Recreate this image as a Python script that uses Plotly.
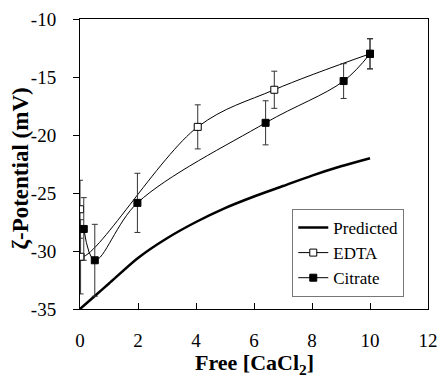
import plotly.graph_objects as go

# Data
pred_x = [0, 0.5, 1, 2, 3, 4, 5, 6, 7, 8, 9, 10]
pred_y = [-35.0, -33.9, -32.8, -30.6, -28.9, -27.5, -26.3, -25.3, -24.4, -23.5, -22.7, -22.0]

edta_x = [0.0, 0.02, 4.06, 6.7, 10.0]
edta_y = [-26.4, -30.5, -19.3, -16.1, -13.0]
edta_err = [2.5, 3.2, 1.9, 1.6, 1.3]

cit_x = [0.13, 0.51, 1.98, 6.4, 9.09, 10.0]
cit_y = [-28.1, -30.8, -25.85, -18.95, -15.35, -13.0]
cit_err = [2.7, 3.1, 2.55, 1.9, 1.5, 1.3]

x_ticks = [0, 2, 4, 6, 8, 10, 12]
y_ticks = [-35, -30, -25, -20, -15, -10]

x_title = "<b>Free [CaCl<sub>2</sub>]</b>"
y_title = "<b>ζ-Potential (mV)</b>"

font_family = "Liberation Serif"

fig = go.Figure()
fig.add_trace(go.Scatter(
    x=pred_x, y=pred_y, mode="lines", name="Predicted",
    line=dict(color="black", width=2.5, shape="spline", smoothing=0.8),
))
fig.add_trace(go.Scatter(
    x=edta_x, y=edta_y, mode="lines+markers", name="EDTA",
    line=dict(color="black", width=1, shape="spline", smoothing=1),
    marker=dict(symbol="square", size=7, color="white", line=dict(color="black", width=1)),
    error_y=dict(type="data", array=edta_err, visible=True, color="#333", thickness=1, width=3),
))
fig.add_trace(go.Scatter(
    x=cit_x, y=cit_y, mode="lines+markers", name="Citrate",
    line=dict(color="black", width=1, shape="spline", smoothing=1),
    marker=dict(symbol="square", size=7, color="black", line=dict(color="black", width=1)),
    error_y=dict(type="data", array=cit_err, visible=True, color="#333", thickness=1, width=3),
))

fig.add_annotation(
    text=y_title, xref="paper", yref="paper", x=-0.172, y=0.485,
    xanchor="center", yanchor="middle", textangle=-90, showarrow=False,
    font=dict(family=font_family, size=23, color="black"),
)
fig.add_annotation(
    text=x_title, xref="paper", yref="paper", x=0.5, y=-0.19,
    xanchor="center", yanchor="middle", showarrow=False,
    font=dict(family=font_family, size=22, color="black"),
)

fig.update_layout(
    width=447, height=379,
    margin=dict(l=80, r=9, t=16, b=70),
    paper_bgcolor="white", plot_bgcolor="white",
    font=dict(family=font_family, size=17, color="black"),
    showlegend=True,
    legend=dict(
        x=0.61, y=0.345, xanchor="left", yanchor="top",
        bordercolor="#777", borderwidth=1, bgcolor="white",
        font=dict(family=font_family, size=17, color="black"),
        itemwidth=30, tracegroupgap=0,
    ),
    xaxis=dict(
        range=[0, 12], tickmode="array", tickvals=x_ticks,
        ticktext=[str(v) for v in x_ticks],
        ticks="inside", ticklen=6, tickcolor="black",
        showline=True, linecolor="black", linewidth=1, mirror=True,
        showgrid=False, zeroline=False, ticklabelstandoff=14,
        tickfont=dict(family=font_family, size=19),
    ),
    yaxis=dict(
        range=[-35, -10], tickmode="array", tickvals=y_ticks,
        ticktext=["-35", "-30", "-25", "-20", "-15", "-10"],
        ticks="outside", ticklen=6, tickcolor="black",
        showline=True, linecolor="black", linewidth=1, mirror=True,
        showgrid=False, zeroline=False, ticklabelstandoff=13,
        tickfont=dict(family=font_family, size=19),
    ),
)

fig.write_html("out.html")
